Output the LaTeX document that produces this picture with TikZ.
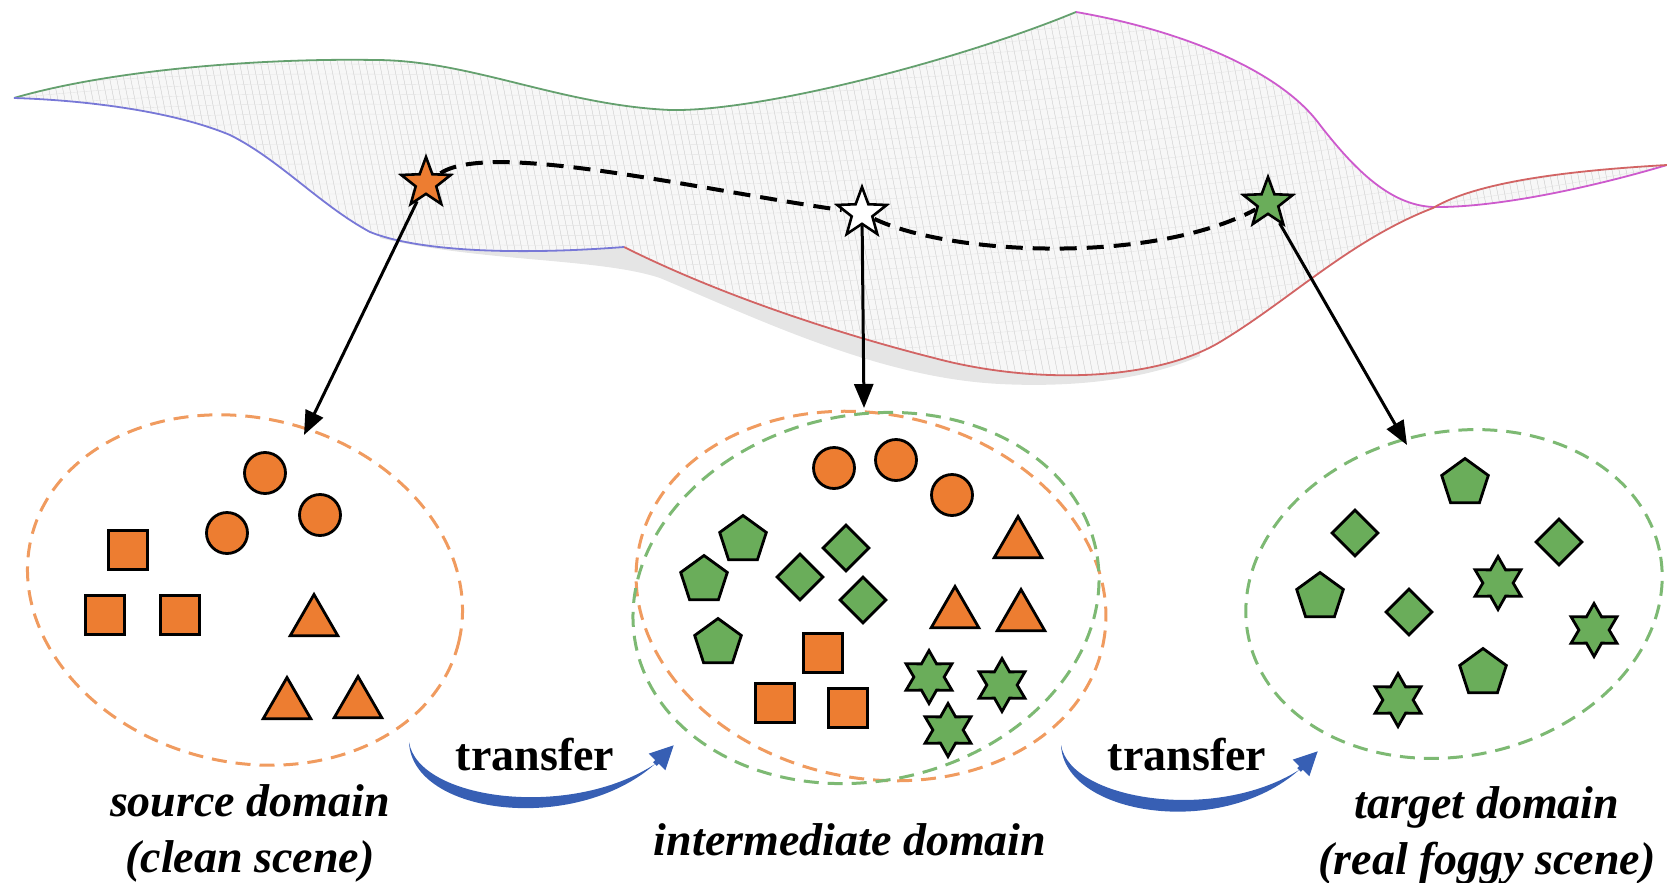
\documentclass[tikz,border=0pt]{standalone}
\usepackage{fontspec}
\setmainfont{Liberation Serif}
\usetikzlibrary{positioning,shapes.geometric,arrows.meta}
\definecolor{fillorange}{RGB}{237,125,49}
\definecolor{fillgreen}{RGB}{106,173,90}
\definecolor{dashorange}{RGB}{240,155,95}
\definecolor{dashgreen}{RGB}{125,185,115}
\definecolor{xferblue}{RGB}{55,95,180}
\definecolor{rimgreen}{RGB}{100,160,110}
\definecolor{rimblue}{RGB}{120,120,215}
\definecolor{rimpink}{RGB}{205,90,205}
\definecolor{rimred}{RGB}{210,100,100}
% rims of the surface, each without its start point
\newcommand{\rimtop}{.. controls (110,70) and (260,58) .. (375,60) .. controls (470,60) and (560,105) .. (670,110) .. controls (760,112) and (960,60) .. (1076,12)}
\newcommand{\rimpk}{.. controls (1180,30) and (1280,70) .. (1320,125) .. controls (1355,170) and (1390,205) .. (1433,207) .. controls (1500,208) and (1600,185) .. (1667,165)}
\newcommand{\rimrd}{.. controls (1580,170) and (1480,180) .. (1433,208) .. controls (1350,240) and (1290,300) .. (1220,342) .. controls (1160,378) and (1050,385) .. (950,362) .. controls (840,335) and (720,295) .. (624,247)}
\newcommand{\rimbl}{.. controls (520,255) and (420,252) .. (370,232) .. controls (320,205) and (280,160) .. (230,135) .. controls (170,110) and (80,100) .. (14,98)}

\begin{document}
\begin{tikzpicture}[x=1pt,y=-1pt,
  shapeline/.style={draw=black,line width=2.8pt,inner sep=0pt},
  ocirc/.style={shapeline,circle,fill=fillorange,minimum size=41pt},
  osq/.style={shapeline,rectangle,fill=fillorange,minimum size=39pt},
  otri/.style={shapeline,regular polygon,regular polygon sides=3,fill=fillorange,minimum size=55pt},
  gpent/.style={shapeline,regular polygon,regular polygon sides=5,fill=fillgreen,minimum size=49pt},
  gdiam/.style={shapeline,diamond,fill=fillgreen,minimum size=47pt},
  ghex/.style={shapeline,star,star points=6,star point ratio=1.75,fill=fillgreen,minimum size=53pt},
  mapstar/.style={draw=black,line width=2.6pt,star,star points=5,star point ratio=2.4,minimum size=52pt,inner sep=0pt},
  odom/.style={draw=dashorange,ellipse,line width=3pt,dash pattern=on 15pt off 9pt,inner sep=0pt},
  gdom/.style={draw=dashgreen,ellipse,line width=3pt,dash pattern=on 15pt off 9pt,inner sep=0pt},
  maparrow/.style={draw=black,line width=3pt,-{Triangle[length=24pt,width=19pt]}},
  tour/.style={draw=black,line width=4pt,dash pattern=on 17pt off 10pt},
  rimline/.style={line width=1.8pt},
  meshline/.style={draw=gray!45,line width=0.35pt},
  xferarrow/.style={draw=xferblue,line width=5pt,-{Triangle[length=24pt,width=22pt]}},
  domtext/.style={font=\fontsize{46}{56}\selectfont\bfseries\itshape,align=center,inner sep=0pt},
  xfertext/.style={font=\fontsize{46}{50}\selectfont\bfseries,inner sep=0pt}]
\useasboundingbox (0,0) rectangle (1667,883);

% surface
\fill[gray!20] (380,238) .. controls (480,262) and (600,258) .. (660,278) .. controls (760,320) and (880,378) .. (1000,384) .. controls (1080,388) and (1150,378) .. (1200,356) -- (1200,300) -- (380,200) -- cycle;
\fill[gray!6] (14,98) \rimtop \rimpk \rimrd \rimbl -- cycle;
\begin{scope}
  \clip (14,98) \rimtop \rimpk \rimrd \rimbl -- cycle;
  \foreach \k in {-200,-193,...,1700}
    \draw[meshline] (\k,0) -- ++(80,400);
  \foreach \k in {0,10,...,320}
    \draw[meshline,draw=gray!22] (0,\k+60) .. controls (400,\k+10) and (800,\k+110) .. (1700,\k-60);
\end{scope}
\draw[rimline,rimgreen] (14,98) \rimtop;
\draw[rimline,rimpink] (1076,12) \rimpk;
\draw[rimline,rimred] (1667,165) \rimrd;
\draw[rimline,rimblue] (624,247) \rimbl;

% points on the surface
\node[mapstar,fill=fillorange] (sstar) at (426,183) {};
\node[mapstar,fill=white] (istar) at (862,213) {};
\node[mapstar,fill=fillgreen] (tstar) at (1268,203) {};
\draw[tour] (sstar) .. controls (490,140) and (700,190) .. (istar)
  .. controls (950,255) and (1150,265) .. (tstar);

% domains
\node[odom,rotate=-14,minimum width=440pt,minimum height=344pt] (srcdom) at (245,590) {};
\node[odom,rotate=-12,minimum width=474pt,minimum height=364pt] (intdomo) at (871,596) {};
\node[gdom,rotate=12,minimum width=470pt,minimum height=366pt] (intdomg) at (866,598) {};
\node[gdom,rotate=12,minimum width=420pt,minimum height=324pt] (tgtdom) at (1454,594) {};

\coordinate (sarr) at (304,435);
\coordinate (iarr) at (864,408);
\coordinate (tarr) at (1407,445);
\draw[maparrow] (sstar) -- (sarr);
\draw[maparrow] (istar) -- (iarr);
\draw[maparrow] (tstar) -- (tarr);

% source domain
\foreach \x/\y [count=\i] in {265/473, 227/533, 320/515}
  \node[ocirc] (sc\i) at (\x,\y) {};
\foreach \x/\y [count=\i] in {128/550, 105/615, 180/615}
  \node[osq] (ss\i) at (\x,\y) {};
\foreach \x/\y [count=\i] in {314/622, 287/705, 358/704}
  \node[otri] (st\i) at (\x,\y) {};

% intermediate domain
\foreach \x/\y [count=\i] in {834/468, 896/460, 952/495}
  \node[ocirc] (ic\i) at (\x,\y) {};
\foreach \x/\y [count=\i] in {1018/544, 955/614, 1021/617}
  \node[otri] (it\i) at (\x,\y) {};
\foreach \x/\y [count=\i] in {743/540, 704/580, 718/643}
  \node[gpent] (ip\i) at (\x,\y) {};
\foreach \x/\y [count=\i] in {846/548, 800/577, 863/600}
  \node[gdiam] (id\i) at (\x,\y) {};
\foreach \x/\y [count=\i] in {823/653, 775/703, 848/708}
  \node[osq] (is\i) at (\x,\y) {};
\foreach \x/\y [count=\i] in {929/677, 1002/685, 948/730}
  \node[ghex] (ih\i) at (\x,\y) {};

% target domain
\foreach \x/\y [count=\i] in {1465/483, 1320/597, 1483/673}
  \node[gpent] (tp\i) at (\x,\y) {};
\foreach \x/\y [count=\i] in {1355/533, 1559/542, 1409/612}
  \node[gdiam] (td\i) at (\x,\y) {};
\foreach \x/\y [count=\i] in {1498/583, 1594/630, 1398/700}
  \node[ghex] (th\i) at (\x,\y) {};

% transfer arrows
\coordinate (x1a) at (409,742);
\coordinate (x1c) at (655,764);
\coordinate (x1b) at (674,745);
\coordinate (x2a) at (1061,745);
\coordinate (x2c) at (1299,770);
\coordinate (x2b) at (1318,751);
\fill[xferblue] (x1a) .. controls (412,815) and (575,835) .. (x1c)
  .. controls (570,820) and (418,800) .. (x1a) -- cycle;
\draw[xferarrow] (x1c) -- (x1b);
\fill[xferblue] (x2a) .. controls (1064,815) and (1220,840) .. (x2c)
  .. controls (1215,823) and (1070,800) .. (x2a) -- cycle;
\draw[xferarrow] (x2c) -- (x2b);
\node[xfertext] (xfer1) at (535,755) {transfer};
\node[xfertext] (xfer2) at (1187,755) {transfer};

% labels
\node[domtext] (srclab) at (250,833) {source domain\\(clean scene)};
\node[domtext] (intlab) at (850,840) {intermediate domain};
\node[domtext] (tgtlab) at (1487,835) {target domain\\(real foggy scene)};
\end{tikzpicture}
\end{document}
